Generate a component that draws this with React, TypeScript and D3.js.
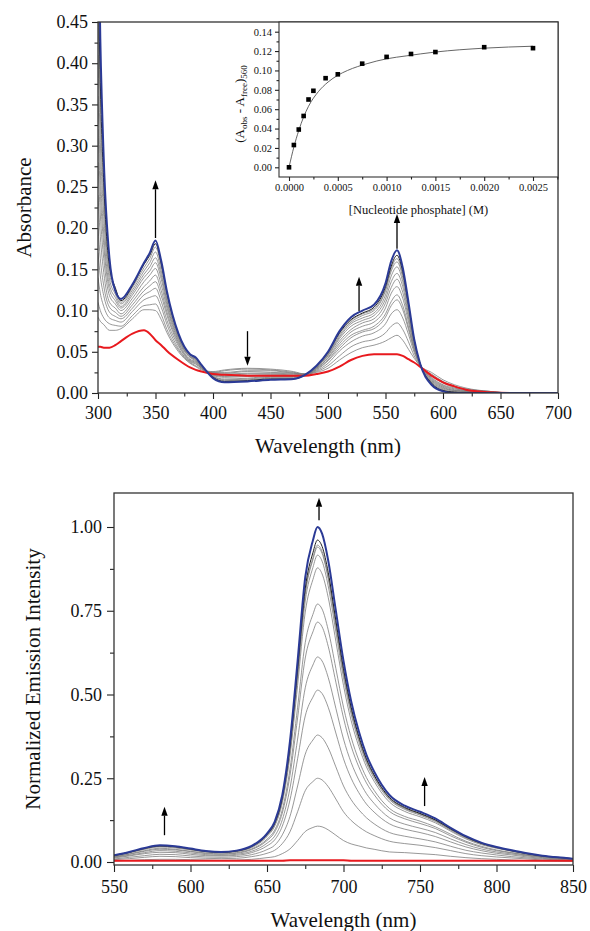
import React, { useEffect, useRef } from 'react';
import * as d3 from 'd3';

// ---- absorbance titration (top panel) ----
const absWavelengths = [300, 302, 305, 310, 315, 320, 330, 340, 345, 350, 355, 360, 370, 380, 385, 390, 400, 410, 430, 450, 470, 480, 490, 500, 510, 520, 530, 540, 550, 555, 560, 565, 570, 575, 580, 590, 600, 610, 620, 640, 660, 700];
const absFree = [0.056, 0.056, 0.055, 0.055, 0.058, 0.063, 0.072, 0.076, 0.072, 0.064, 0.058, 0.051, 0.040, 0.031, 0.028, 0.026, 0.023, 0.022, 0.021, 0.021, 0.021, 0.021, 0.023, 0.026, 0.032, 0.040, 0.045, 0.047, 0.047, 0.047, 0.047, 0.045, 0.041, 0.037, 0.032, 0.021, 0.013, 0.008, 0.004, 0.001, 0, 0];
const absSteps = [
  [0.092, 0.087, 0.083, 0.076, 0.076, 0.078, 0.090, 0.101, 0.101, 0.100, 0.089, 0.073, 0.050, 0.036, 0.032, 0.028, 0.026, 0.028, 0.030, 0.029, 0.026, 0.023, 0.025, 0.030, 0.040, 0.049, 0.055, 0.058, 0.063, 0.067, 0.070, 0.064, 0.053, 0.042, 0.033, 0.025, 0.016, 0.010, 0.006, 0.002, 0, 0],
  [0.110, 0.100, 0.091, 0.084, 0.082, 0.081, 0.094, 0.106, 0.107, 0.108, 0.095, 0.077, 0.052, 0.037, 0.033, 0.029, 0.025, 0.027, 0.029, 0.028, 0.025, 0.023, 0.026, 0.033, 0.045, 0.056, 0.062, 0.065, 0.073, 0.081, 0.085, 0.077, 0.062, 0.045, 0.033, 0.023, 0.014, 0.008, 0.005, 0.002, 0, 0],
  [0.140, 0.121, 0.105, 0.091, 0.088, 0.086, 0.099, 0.113, 0.116, 0.118, 0.104, 0.083, 0.054, 0.038, 0.035, 0.030, 0.025, 0.025, 0.027, 0.027, 0.024, 0.023, 0.027, 0.036, 0.051, 0.062, 0.069, 0.073, 0.084, 0.096, 0.101, 0.091, 0.071, 0.049, 0.034, 0.021, 0.012, 0.007, 0.004, 0.002, 0, 0],
  [0.170, 0.142, 0.118, 0.098, 0.093, 0.090, 0.103, 0.119, 0.123, 0.127, 0.111, 0.088, 0.057, 0.039, 0.036, 0.030, 0.024, 0.024, 0.026, 0.025, 0.024, 0.023, 0.028, 0.039, 0.054, 0.067, 0.074, 0.078, 0.092, 0.106, 0.113, 0.101, 0.077, 0.052, 0.034, 0.019, 0.010, 0.006, 0.003, 0.001, 0, 0],
  [0.200, 0.163, 0.130, 0.104, 0.098, 0.093, 0.107, 0.124, 0.130, 0.135, 0.118, 0.094, 0.059, 0.040, 0.037, 0.031, 0.023, 0.023, 0.024, 0.024, 0.023, 0.022, 0.029, 0.040, 0.057, 0.070, 0.076, 0.081, 0.096, 0.111, 0.119, 0.106, 0.080, 0.053, 0.034, 0.018, 0.009, 0.005, 0.003, 0.001, 0, 0],
  [0.240, 0.190, 0.146, 0.110, 0.103, 0.096, 0.111, 0.129, 0.136, 0.143, 0.124, 0.098, 0.061, 0.041, 0.038, 0.031, 0.022, 0.021, 0.023, 0.023, 0.022, 0.022, 0.030, 0.042, 0.060, 0.074, 0.081, 0.086, 0.103, 0.121, 0.129, 0.115, 0.086, 0.055, 0.035, 0.017, 0.008, 0.004, 0.002, 0.001, 0, 0],
  [0.280, 0.217, 0.163, 0.118, 0.108, 0.100, 0.115, 0.135, 0.143, 0.151, 0.131, 0.103, 0.063, 0.043, 0.039, 0.032, 0.022, 0.020, 0.021, 0.022, 0.021, 0.022, 0.030, 0.043, 0.063, 0.077, 0.085, 0.090, 0.109, 0.128, 0.138, 0.122, 0.091, 0.057, 0.035, 0.016, 0.007, 0.003, 0.002, 0.001, 0, 0],
  [0.320, 0.244, 0.179, 0.125, 0.112, 0.103, 0.119, 0.140, 0.148, 0.158, 0.138, 0.107, 0.065, 0.044, 0.040, 0.032, 0.021, 0.019, 0.020, 0.021, 0.020, 0.022, 0.031, 0.045, 0.066, 0.081, 0.088, 0.094, 0.114, 0.135, 0.145, 0.129, 0.095, 0.059, 0.035, 0.015, 0.006, 0.003, 0.002, 0.001, 0, 0],
  [0.360, 0.271, 0.194, 0.131, 0.116, 0.105, 0.122, 0.144, 0.153, 0.164, 0.143, 0.111, 0.067, 0.044, 0.041, 0.033, 0.020, 0.017, 0.018, 0.020, 0.020, 0.022, 0.031, 0.046, 0.068, 0.084, 0.091, 0.097, 0.119, 0.142, 0.153, 0.135, 0.099, 0.061, 0.035, 0.014, 0.005, 0.002, 0.001, 0, 0, 0],
  [0.410, 0.304, 0.214, 0.138, 0.120, 0.108, 0.125, 0.148, 0.158, 0.171, 0.148, 0.114, 0.068, 0.045, 0.041, 0.033, 0.020, 0.016, 0.017, 0.019, 0.019, 0.022, 0.032, 0.047, 0.070, 0.086, 0.094, 0.100, 0.124, 0.148, 0.159, 0.140, 0.102, 0.062, 0.036, 0.013, 0.004, 0.001, 0.001, 0, 0, 0],
  [0.460, 0.338, 0.233, 0.145, 0.125, 0.110, 0.128, 0.152, 0.163, 0.177, 0.153, 0.118, 0.070, 0.046, 0.042, 0.033, 0.019, 0.015, 0.016, 0.018, 0.018, 0.022, 0.032, 0.048, 0.072, 0.088, 0.096, 0.102, 0.126, 0.151, 0.163, 0.143, 0.105, 0.063, 0.036, 0.012, 0.003, 0.001, 0.001, 0, 0, 0],
  [0.520, 0.377, 0.255, 0.153, 0.128, 0.112, 0.130, 0.156, 0.167, 0.181, 0.157, 0.121, 0.071, 0.047, 0.043, 0.034, 0.019, 0.014, 0.015, 0.017, 0.017, 0.022, 0.033, 0.049, 0.073, 0.089, 0.097, 0.104, 0.129, 0.154, 0.167, 0.147, 0.107, 0.064, 0.036, 0.012, 0.003, 0.001, 0, 0, 0, 0],
];
const absFinal = [0.60, 0.43, 0.284, 0.163, 0.124, 0.114, 0.132, 0.158, 0.170, 0.185, 0.160, 0.123, 0.072, 0.047, 0.043, 0.034, 0.018, 0.013, 0.014, 0.016, 0.017, 0.022, 0.033, 0.050, 0.075, 0.092, 0.100, 0.107, 0.133, 0.160, 0.173, 0.152, 0.110, 0.065, 0.036, 0.010, 0.002, 0, 0, 0, 0, 0];
const absTicks = [0, 0.05, 0.1, 0.15, 0.2, 0.25, 0.3, 0.35, 0.4, 0.45];
const absWlTicks = [300, 350, 400, 450, 500, 550, 600, 650, 700];
// [wavelength, tail, tip]
const absArrows = [[350, 0.188, 0.258], [430, 0.075, 0.033], [527, 0.0995, 0.141], [560, 0.175, 0.217]];

// ---- binding isotherm (inset) ----
const insetConc = [0, 0.00005, 0.0001, 0.00015, 0.0002, 0.00025, 0.000375, 0.0005, 0.00075, 0.001, 0.00125, 0.0015, 0.002, 0.0025];
const insetDelta = [0.000, 0.023, 0.039, 0.053, 0.070, 0.079, 0.092, 0.096, 0.107, 0.114, 0.117, 0.119, 0.124, 0.123];
const fitConc = [0, 0.00005, 0.0001, 0.00015, 0.0002, 0.0003, 0.0004, 0.0005, 0.0006, 0.0008, 0.001, 0.0012, 0.0015, 0.002, 0.0025];
const fitDelta = [0, 0.021, 0.038, 0.052, 0.063, 0.078, 0.088, 0.095, 0.100, 0.107, 0.112, 0.115, 0.119, 0.123, 0.125];
const insetXTicks = [0, 0.0005, 0.001, 0.0015, 0.002, 0.0025];
const insetYTicks = [0, 0.02, 0.04, 0.06, 0.08, 0.1, 0.12, 0.14];

// ---- emission titration (bottom panel) ----
const emWavelengths = [550, 560, 570, 580, 590, 600, 610, 620, 630, 640, 650, 655, 660, 665, 670, 675, 680, 683, 686, 690, 695, 700, 705, 710, 715, 720, 730, 740, 750, 760, 770, 780, 790, 800, 810, 820, 830, 840, 850];
const emFree = [0.004, 0.004, 0.004, 0.004, 0.004, 0.004, 0.004, 0.004, 0.004, 0.004, 0.004, 0.004, 0.004, 0.005, 0.005, 0.005, 0.005, 0.005, 0.005, 0.005, 0.005, 0.005, 0.004, 0.004, 0.004, 0.004, 0.004, 0.004, 0.004, 0.004, 0.004, 0.004, 0.004, 0.004, 0.004, 0.004, 0.004, 0.004, 0.004];
const emSteps = [
  [0.003, 0.005, 0.007, 0.008, 0.008, 0.007, 0.006, 0.005, 0.006, 0.008, 0.013, 0.016, 0.025, 0.039, 0.064, 0.091, 0.103, 0.107, 0.105, 0.096, 0.080, 0.064, 0.054, 0.048, 0.042, 0.038, 0.030, 0.028, 0.025, 0.022, 0.017, 0.013, 0.010, 0.008, 0.006, 0.004, 0.003, 0.002, 0.002],
  [0.007, 0.010, 0.014, 0.017, 0.016, 0.013, 0.011, 0.010, 0.011, 0.016, 0.026, 0.035, 0.055, 0.090, 0.150, 0.213, 0.240, 0.250, 0.245, 0.225, 0.188, 0.150, 0.124, 0.105, 0.090, 0.079, 0.062, 0.055, 0.050, 0.043, 0.034, 0.025, 0.019, 0.015, 0.012, 0.009, 0.006, 0.005, 0.003],
  [0.009, 0.014, 0.019, 0.023, 0.022, 0.018, 0.015, 0.014, 0.016, 0.022, 0.037, 0.050, 0.081, 0.136, 0.227, 0.322, 0.364, 0.379, 0.371, 0.341, 0.284, 0.227, 0.186, 0.156, 0.132, 0.114, 0.088, 0.077, 0.069, 0.060, 0.047, 0.035, 0.027, 0.021, 0.016, 0.012, 0.009, 0.006, 0.005],
  [0.012, 0.018, 0.025, 0.029, 0.028, 0.023, 0.019, 0.018, 0.020, 0.028, 0.048, 0.066, 0.107, 0.185, 0.308, 0.436, 0.492, 0.513, 0.503, 0.462, 0.385, 0.308, 0.250, 0.207, 0.173, 0.149, 0.114, 0.098, 0.088, 0.076, 0.060, 0.045, 0.034, 0.026, 0.021, 0.015, 0.011, 0.008, 0.006],
  [0.014, 0.020, 0.028, 0.034, 0.032, 0.027, 0.022, 0.020, 0.023, 0.032, 0.056, 0.077, 0.126, 0.220, 0.367, 0.520, 0.588, 0.612, 0.600, 0.551, 0.459, 0.367, 0.297, 0.245, 0.204, 0.175, 0.132, 0.113, 0.101, 0.088, 0.069, 0.052, 0.039, 0.030, 0.024, 0.018, 0.013, 0.009, 0.007],
  [0.015, 0.023, 0.032, 0.038, 0.036, 0.031, 0.025, 0.023, 0.026, 0.037, 0.064, 0.089, 0.146, 0.258, 0.430, 0.609, 0.687, 0.716, 0.702, 0.644, 0.537, 0.430, 0.346, 0.284, 0.236, 0.201, 0.151, 0.129, 0.115, 0.100, 0.078, 0.059, 0.044, 0.034, 0.027, 0.020, 0.015, 0.011, 0.008],
  [0.016, 0.024, 0.034, 0.041, 0.038, 0.032, 0.027, 0.024, 0.028, 0.039, 0.068, 0.095, 0.156, 0.277, 0.462, 0.655, 0.739, 0.770, 0.755, 0.693, 0.578, 0.462, 0.372, 0.304, 0.252, 0.214, 0.160, 0.136, 0.122, 0.105, 0.083, 0.062, 0.047, 0.036, 0.028, 0.021, 0.015, 0.011, 0.008],
  [0.018, 0.027, 0.038, 0.045, 0.042, 0.036, 0.030, 0.027, 0.031, 0.043, 0.076, 0.107, 0.177, 0.316, 0.527, 0.746, 0.843, 0.878, 0.860, 0.790, 0.659, 0.527, 0.422, 0.345, 0.284, 0.241, 0.179, 0.151, 0.135, 0.117, 0.092, 0.069, 0.052, 0.041, 0.032, 0.023, 0.017, 0.013, 0.009],
  [0.019, 0.028, 0.039, 0.047, 0.044, 0.037, 0.031, 0.028, 0.032, 0.045, 0.079, 0.111, 0.184, 0.330, 0.550, 0.779, 0.879, 0.916, 0.898, 0.824, 0.687, 0.550, 0.441, 0.359, 0.295, 0.250, 0.186, 0.157, 0.140, 0.121, 0.095, 0.072, 0.054, 0.042, 0.033, 0.024, 0.018, 0.013, 0.009],
  [0.019, 0.029, 0.040, 0.048, 0.045, 0.038, 0.031, 0.029, 0.032, 0.046, 0.081, 0.114, 0.189, 0.338, 0.564, 0.799, 0.902, 0.940, 0.921, 0.846, 0.705, 0.564, 0.452, 0.368, 0.302, 0.256, 0.190, 0.160, 0.143, 0.124, 0.097, 0.073, 0.055, 0.043, 0.033, 0.025, 0.018, 0.013, 0.010],
  [0.019, 0.029, 0.040, 0.048, 0.045, 0.038, 0.032, 0.029, 0.033, 0.046, 0.081, 0.114, 0.190, 0.341, 0.568, 0.804, 0.908, 0.946, 0.927, 0.851, 0.710, 0.568, 0.455, 0.370, 0.304, 0.257, 0.191, 0.161, 0.144, 0.124, 0.098, 0.074, 0.056, 0.043, 0.033, 0.025, 0.018, 0.013, 0.010],
  [0.019, 0.029, 0.041, 0.048, 0.046, 0.039, 0.032, 0.029, 0.033, 0.047, 0.082, 0.116, 0.193, 0.346, 0.577, 0.817, 0.923, 0.961, 0.942, 0.865, 0.721, 0.577, 0.462, 0.375, 0.308, 0.260, 0.193, 0.163, 0.145, 0.126, 0.099, 0.075, 0.056, 0.044, 0.034, 0.025, 0.018, 0.014, 0.010],
];
const emFinal = [0.020, 0.030, 0.042, 0.050, 0.047, 0.040, 0.033, 0.030, 0.034, 0.048, 0.085, 0.120, 0.200, 0.360, 0.600, 0.850, 0.960, 1.000, 0.980, 0.900, 0.750, 0.600, 0.480, 0.390, 0.320, 0.270, 0.200, 0.168, 0.150, 0.130, 0.102, 0.077, 0.058, 0.045, 0.035, 0.026, 0.019, 0.014, 0.010];
const emTicks = [0, 0.25, 0.5, 0.75, 1.0];
const emWlTicks = [550, 600, 650, 700, 750, 800, 850];
const emArrows = [[583, 0.080, 0.165], [684, 1.020, 1.087], [753, 0.167, 0.254]];

const FONT = "'Liberation Serif', 'Times New Roman', 'DejaVu Serif', serif";
const INK = '#222';
const GREY = '#7d7d7d';
const RED = '#e8191e';
const NAVY = '#2b3a96';

type Sel = d3.Selection<any, unknown, null, undefined>;

function addAxis(svg: Sel, axis: any, transform: string, size: number) {
  const g = svg.append('g').attr('transform', transform).call(axis);
  g.select('.domain').remove();
  g.attr('font-family', null).attr('font-size', null).attr('color', INK);
  g.selectAll('line').attr('stroke-width', 1.1);
  g.selectAll('text')
    .style('font-family', FONT)
    .style('font-size', `${size}px`)
    .attr('fill', '#111');
  return g;
}

function addText(svg: Sel, txt: string, size: number) {
  return svg.append('text')
    .style('font-family', FONT)
    .style('font-size', `${size}px`)
    .attr('fill', '#111')
    .attr('text-anchor', 'middle')
    .text(txt);
}

function drawArrow(svg: Sel, x: number, y0: number, y1: number) {
  const dir = y1 < y0 ? -1 : 1;
  const head = 9;
  svg.append('line')
    .attr('x1', x).attr('x2', x)
    .attr('y1', y0).attr('y2', y1 - dir * head)
    .attr('stroke', '#000').attr('stroke-width', 1.3);
  svg.append('path')
    .attr('d', `M ${x} ${y1} L ${x - 3.2} ${y1 - dir * head} L ${x + 3.2} ${y1 - dir * head} Z`)
    .attr('fill', '#000');
}

function drawSpectra(g: Sel, wl: number[], free: number[], steps: number[][], final: number[], x: any, y: any) {
  const line = d3.line<number>()
    .x((_, i) => x(wl[i]))
    .y(d => y(d))
    .curve(d3.curveMonotoneX);
  steps.forEach((s, i) => {
    g.append('path')
      .attr('d', line(s))
      .attr('fill', 'none')
      .attr('stroke', i === steps.length - 1 ? '#222' : GREY)
      .attr('stroke-width', i === steps.length - 1 ? 1 : 0.8);
  });
  g.append('path').attr('d', line(free)).attr('fill', 'none').attr('stroke', RED).attr('stroke-width', 2);
  g.append('path').attr('d', line(final)).attr('fill', 'none').attr('stroke', NAVY).attr('stroke-width', 2);
}

function drawAbsorbance(svg: Sel) {
  const x0 = 98, x1 = 558, y0 = 22, y1 = 393;
  const x = d3.scaleLinear().domain([300, 700]).range([x0, x1]);
  const y = d3.scaleLinear().domain([0, 0.45]).range([y1, y0]);

  svg.append('clipPath').attr('id', 'clip-abs')
    .append('rect').attr('x', x0).attr('y', y0).attr('width', x1 - x0).attr('height', y1 - y0);
  const plot = svg.append('g').attr('clip-path', 'url(#clip-abs)');
  drawSpectra(plot, absWavelengths, absFree, absSteps, absFinal, x, y);

  addAxis(svg, d3.axisBottom(x).tickValues(absWlTicks).tickSize(6).tickPadding(7).tickFormat(d3.format('d')), `translate(0,${y1})`, 18);
  addAxis(svg, d3.axisBottom(x).tickValues(d3.range(325, 700, 50)).tickSize(3.5).tickFormat(() => ''), `translate(0,${y1})`, 18);
  addAxis(svg, d3.axisLeft(y).tickValues(absTicks).tickSize(6).tickPadding(4).tickFormat(d3.format('.2f')), `translate(${x0},0)`, 18);
  addAxis(svg, d3.axisLeft(y).tickValues(d3.range(0.025, 0.45, 0.05)).tickSize(3.5).tickFormat(() => ''), `translate(${x0},0)`, 18);

  svg.append('rect').attr('x', x0).attr('y', y0).attr('width', x1 - x0).attr('height', y1 - y0)
    .attr('fill', 'none').attr('stroke', '#333').attr('stroke-width', 1.3);

  absArrows.forEach(([wl, a, b]) => drawArrow(svg, x(wl), y(a), y(b)));

  addText(svg, 'Wavelength (nm)', 21).attr('x', (x0 + x1) / 2).attr('y', 453);
  addText(svg, 'Absorbance', 21).attr('transform', `translate(31,${(y0 + y1) / 2}) rotate(-90)`);

  drawInset(svg);
}

function drawInset(svg: Sel) {
  const x0 = 279, x1 = 558, y0 = 22, y1 = 177;
  const x = d3.scaleLinear().domain([0, 0.0025]).range([289, 533]);
  const y = d3.scaleLinear().domain([0, 0.14]).range([167.3, 31.7]);

  svg.append('rect').attr('x', x0).attr('y', y0).attr('width', x1 - x0).attr('height', y1 - y0)
    .attr('fill', '#fff').attr('stroke', '#333').attr('stroke-width', 1.1);

  const fit = d3.line<number>().x((_, i) => x(fitConc[i])).y(d => y(d)).curve(d3.curveMonotoneX);
  svg.append('path').attr('d', fit(fitDelta)).attr('fill', 'none').attr('stroke', '#555').attr('stroke-width', 0.9);

  svg.append('g').selectAll('rect').data(insetDelta).join('rect')
    .attr('x', (_, i) => x(insetConc[i]) - 2.3)
    .attr('y', d => y(d) - 2.3)
    .attr('width', 4.6).attr('height', 4.6).attr('fill', '#000');

  addAxis(svg, d3.axisBottom(x).tickValues(insetXTicks).tickSize(4).tickPadding(3).tickFormat(d3.format('.4f')), `translate(0,${y1})`, 10.5);
  addAxis(svg, d3.axisBottom(x).tickValues(d3.range(0.00025, 0.0028, 0.0005)).tickSize(2.5).tickFormat(() => ''), `translate(0,${y1})`, 10.5);
  addAxis(svg, d3.axisLeft(y).tickValues(insetYTicks).tickSize(4).tickPadding(3).tickFormat(d3.format('.2f')), `translate(${x0},0)`, 10.5);
  addAxis(svg, d3.axisLeft(y).tickValues(d3.range(0.01, 0.15, 0.02)).tickSize(2.5).tickFormat(() => ''), `translate(${x0},0)`, 10.5);

  addText(svg, '[Nucleotide phosphate] (M)', 12.5).attr('x', (x0 + x1) / 2).attr('y', 214);

  const lab = addText(svg, '', 13).attr('transform', `translate(244,104) rotate(-90)`);
  lab.append('tspan').text('(A');
  lab.append('tspan').style('font-size', '9px').attr('dy', 3).text('obs');
  lab.append('tspan').attr('dy', -3).text(' - A');
  lab.append('tspan').style('font-size', '9px').attr('dy', 3).text('free');
  lab.append('tspan').attr('dy', -3).text(')');
  lab.append('tspan').style('font-size', '9px').attr('dy', 3).text('560');
}

function drawEmission(svg: Sel) {
  const x0 = 114, x1 = 573, y0 = 493, y1 = 865;
  const x = d3.scaleLinear().domain([550, 850]).range([x0, x1]);
  const y = d3.scaleLinear().domain([0, 1]).range([862, 527]);

  svg.append('clipPath').attr('id', 'clip-em')
    .append('rect').attr('x', x0).attr('y', y0).attr('width', x1 - x0).attr('height', y1 - y0);
  const plot = svg.append('g').attr('clip-path', 'url(#clip-em)');
  drawSpectra(plot, emWavelengths, emFree, emSteps, emFinal, x, y);

  addAxis(svg, d3.axisBottom(x).tickValues(emWlTicks).tickSize(7).tickPadding(8).tickFormat(d3.format('d')), `translate(0,${y1})`, 18);
  addAxis(svg, d3.axisBottom(x).tickValues(d3.range(575, 850, 50)).tickSize(4).tickFormat(() => ''), `translate(0,${y1})`, 18);
  addAxis(svg, d3.axisLeft(y).tickValues(emTicks).tickSize(7).tickPadding(5).tickFormat(d3.format('.2f')), `translate(${x0},0)`, 18);
  addAxis(svg, d3.axisLeft(y).tickValues(d3.range(0.125, 1.1, 0.25)).tickSize(4).tickFormat(() => ''), `translate(${x0},0)`, 18);

  svg.append('rect').attr('x', x0).attr('y', y0).attr('width', x1 - x0).attr('height', y1 - y0)
    .attr('fill', 'none').attr('stroke', '#333').attr('stroke-width', 1.3);

  emArrows.forEach(([wl, a, b]) => drawArrow(svg, x(wl), y(a), y(b)));

  addText(svg, 'Wavelength (nm)', 21).attr('x', (x0 + x1) / 2).attr('y', 927);
  addText(svg, 'Normalized Emission Intensity', 21).attr('transform', `translate(40,${(y0 + y1) / 2}) rotate(-90)`);
}

export default function App() {
  const ref = useRef<SVGSVGElement>(null);

  useEffect(() => {
    const svg = d3.select(ref.current) as unknown as Sel;
    svg.selectAll('*').remove();
    drawAbsorbance(svg);
    drawEmission(svg);
  }, []);

  return (
    <svg
      ref={ref}
      width={590}
      height={931}
      style={{ position: 'absolute', left: 0, top: 0, background: '#fff' }}
    />
  );
}
